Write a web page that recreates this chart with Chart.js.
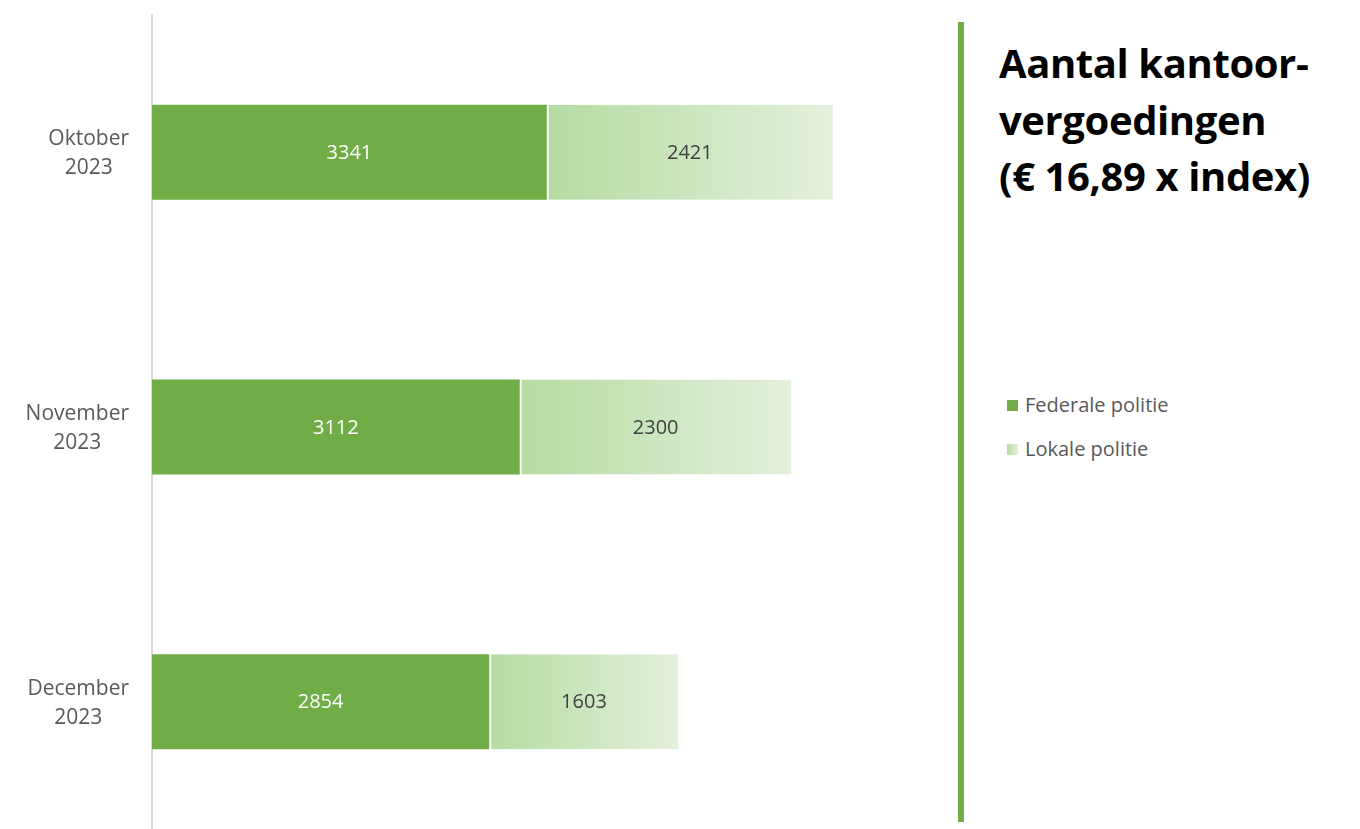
<!DOCTYPE html>
<html lang="nl">
<head>
<meta charset="UTF-8">
<title>Aantal kantoorvergoedingen</title>
<script src="https://cdn.jsdelivr.net/npm/chart.js"></script>
<style>
    html, body { margin: 0; padding: 0; background: #fff; overflow: hidden; width: 1360px; height: 829px; }
    body { position: relative; font-family: "Open Sans", sans-serif; }
    #wrap { position: absolute; left: 0; top: 0; width: 870px; height: 845px; }
    #divider { position: absolute; left: 958px; top: 22px; width: 6px; height: 800px; background: #70ad47; }
    #title { position: absolute; left: 999px; top: 35px; font-weight: bold; font-size: 40px; line-height: 56.5px; color: #000; letter-spacing: -0.4px; }
    .leg { position: absolute; left: 1007px; font-size: 20px; color: #595959; }
    .leg span { display: inline-block; width: 11px; height: 11px; margin-right: 7px; vertical-align: 1px; }
</style>
</head>
<body>
<div id="wrap"><canvas id="chart"></canvas></div>
<div id="divider"></div>
<div id="title">Aantal kantoor-<br>vergoedingen<br>(€ 16,89 x index)</div>
<div class="leg" style="top:391px"><span style="background:#70ad47"></span>Federale politie</div>
<div class="leg" style="top:435px"><span style="background:linear-gradient(to right,#b4dba2,#e4f0dc)"></span>Lokale politie</div>

<script>
    const months = [["Oktober", "2023"], ["November", "2023"], ["December", "2023"]];
    const federale = [3341, 3112, 2854];
    const lokale = [2421, 2300, 1603];

    // lichte balken krijgen een verloop van begin tot eind van het segment
    function lokaleFill(ctx) {
        const chart = ctx.chart;
        if (!chart.chartArea || ctx.dataIndex === undefined) return "#c8e4b8";
        const x = chart.scales.x;
        const i = ctx.dataIndex;
        const x0 = x.getPixelForValue(federale[i]);
        const x1 = x.getPixelForValue(federale[i] + lokale[i]);
        const g = chart.ctx.createLinearGradient(x0, 0, x1, 0);
        g.addColorStop(0, "#b4dba2");
        g.addColorStop(1, "#e4f0dc");
        return g;
    }

    const valueLabels = {
        id: "valueLabels",
        afterDatasetsDraw(chart) {
            const c = chart.ctx;
            c.save();
            c.font = "20px 'Open Sans'";
            c.textAlign = "center";
            c.textBaseline = "middle";
            chart.data.datasets.forEach((ds, di) => {
                chart.getDatasetMeta(di).data.forEach((bar, i) => {
                    const p = bar.getCenterPoint();
                    c.fillStyle = di === 0 ? "#ffffff" : "#404040";
                    c.fillText(ds.data[i], p.x, p.y + 1);
                });
            });
            c.restore();
        }
    };

    // maandlabels: blok rechts uitgelijnd, regels onderling gecentreerd
    const monthLabels = {
        id: "monthLabels",
        afterDraw(chart) {
            const c = chart.ctx;
            const y = chart.scales.y;
            c.save();
            c.font = "21px 'Open Sans'";
            c.fillStyle = "#595959";
            c.textAlign = "center";
            c.textBaseline = "middle";
            months.forEach((lines, i) => {
                const w = Math.max(...lines.map(l => c.measureText(l).width));
                const cx = 129 - w / 2;
                const cy = y.getPixelForValue(i);
                c.fillText(lines[0], cx, cy - 13);
                c.fillText(lines[1], cx, cy + 16);
            });
            c.restore();
        }
    };

    new Chart(document.getElementById("chart"), {
        type: "bar",
        data: {
            labels: months,
            datasets: [
                { label: "Federale politie", data: federale, backgroundColor: "#70ad47", borderWidth: 0 },
                { label: "Lokale politie", data: lokale, backgroundColor: lokaleFill,
                  borderColor: "#ffffff", borderWidth: { left: 2 }, borderSkipped: false }
            ]
        },
        options: {
            indexAxis: "y",
            responsive: true,
            maintainAspectRatio: false,
            animation: false,
            categoryPercentage: 1,
            barPercentage: 0.346,
            layout: { padding: { top: 15, right: 9, bottom: 6, left: 0 } },
            plugins: { legend: { display: false }, tooltip: { enabled: false } },
            scales: {
                x: { stacked: true, min: 0, max: 6000, display: false },
                y: {
                    stacked: true,
                    grid: { display: false },
                    border: { display: true, color: "#d9d9d9", width: 2 },
                    ticks: { display: false },
                    afterFit(scale) { scale.width = 152; }
                }
            }
        },
        plugins: [valueLabels, monthLabels]
    });
</script>
</body>
</html>
